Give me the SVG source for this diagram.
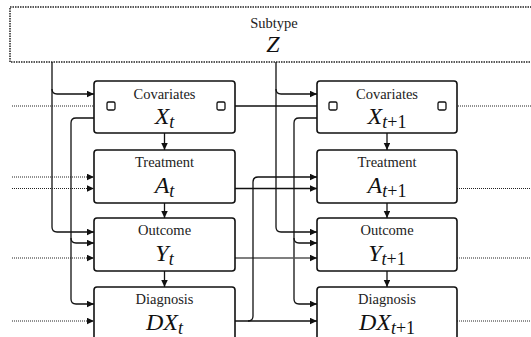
<svg xmlns="http://www.w3.org/2000/svg" width="531" height="337" viewBox="0 0 531 337">
  <style>
    .box { fill: #fff; stroke: #111; stroke-width: 1.6; }
    .port { fill: #fff; stroke: #111; stroke-width: 1.3; }
    .title { font-family: 'Liberation Serif', 'Times New Roman', serif; font-size: 14.5px; fill: #222; text-anchor: middle; }
    .math { font-family: 'Liberation Serif', 'Times New Roman', serif; font-style: italic; font-size: 24px; fill: #111; text-anchor: middle; }
    .sub { font-size: 18px; }
    .up { font-style: normal; }
    .wire { fill: none; stroke: #111; stroke-width: 1.3; }
    .grey { stroke: #555; }
    .dot { fill: none; stroke: #222; stroke-width: 1; stroke-dasharray: 1 1; }
    .arr { marker-end: url(#head); }
  </style>
  <defs>
    <marker id="head" markerUnits="userSpaceOnUse" markerWidth="8" markerHeight="8" refX="7" refY="3.25" orient="auto">
      <path d="M0,0 L7,3.25 L0,6.5 z" fill="#111"/>
    </marker>
  </defs>

  <rect x="0" y="0" width="531" height="337" fill="#fff"/>

  <!-- subtype -->
  <g id="subtype">
    <rect x="10" y="7" width="535" height="55" fill="#fff" stroke="#222" stroke-width="1.5" stroke-dasharray="1.5 1"/>
    <text class="title" x="274" y="28">Subtype</text>
    <text class="math" x="273" y="52" font-size="22">Z</text>
  </g>

  <!-- connectors -->
  <g id="connectors">
    <!-- from subtype -->
    <path class="wire arr" d="M52,62 V227 Q52,232 57,232 H94"/>
    <path class="wire arr" d="M52,89 Q52,94 57,94 H94"/>
    <path class="wire arr" d="M276,62 V227 Q276,232 281,232 H317"/>
    <path class="wire arr" d="M276,89 Q276,94 281,94 H317"/>

    <!-- covariates feeding outcome and diagnosis -->
    <path class="wire arr" d="M94,118 H76 Q71,118 71,123 V299 Q71,304 76,304 H94"/>
    <path class="wire arr" d="M71,238 Q71,243 76,243 H94"/>
    <path class="wire arr" d="M317,118 H299 Q294,118 294,123 V299 Q294,304 299,304 H317"/>
    <path class="wire arr" d="M294,238 Q294,243 299,243 H317"/>

    <!-- within-step arrows -->
    <path class="wire arr" d="M164.5,133 V150"/>
    <path class="wire arr" d="M164.5,203 V218"/>
    <path class="wire arr" d="M164.5,271 V287"/>
    <path class="wire arr" d="M387,133 V150"/>
    <path class="wire arr" d="M387,203 V218"/>
    <path class="wire arr" d="M387,271 V287"/>

    <!-- step t to step t+1 -->
    <path class="wire arr" d="M225,106 H329"/>
    <path class="wire arr" d="M235,188.5 H317"/>
    <path class="wire grey arr" d="M235,258 H317"/>
    <path class="wire arr" d="M235,321 H317"/>
    <path class="wire arr" d="M248,321 Q253,321 253,316 V182 Q253,177 258,177 H317"/>

    <!-- incoming dotted -->
    <path class="dot arr" d="M12,106 H107"/>
    <path class="dot arr" d="M12,177 H94"/>
    <path class="dot arr" d="M12,188.5 H94"/>
    <path class="dot arr" d="M12,258 H94"/>
    <path class="dot arr" d="M12,321 H94"/>

    <!-- outgoing dotted -->
    <path class="dot" d="M446,106 H531"/>
    <path class="dot" d="M457,188.5 H531"/>
    <path class="dot" d="M457,258 H531"/>
    <path class="dot" d="M457,321 H531"/>
  </g>

  <!-- step t -->
  <g id="covariates-t">
    <rect class="box" x="94" y="81" width="141" height="52" rx="3"/>
    <rect class="port" x="107" y="102" width="8" height="8" rx="1.5"/>
    <rect class="port" x="217" y="102" width="8" height="8" rx="1.5"/>
    <text class="title" x="164.5" y="99">Covariates</text>
    <text class="math" x="164.5" y="124">X<tspan class="sub" dy="4">t</tspan></text>
  </g>
  <g id="treatment-t">
    <rect class="box" x="94" y="150" width="141" height="53" rx="3"/>
    <text class="title" x="164.5" y="167">Treatment</text>
    <text class="math" x="164.5" y="193">A<tspan class="sub" dy="4">t</tspan></text>
  </g>
  <g id="outcome-t">
    <rect class="box" x="94" y="218" width="141" height="53" rx="3"/>
    <text class="title" x="164.5" y="235">Outcome</text>
    <text class="math" x="164.5" y="261">Y<tspan class="sub" dy="4">t</tspan></text>
  </g>
  <g id="diagnosis-t">
    <rect class="box" x="94" y="287" width="141" height="60" rx="3"/>
    <text class="title" x="164.5" y="304">Diagnosis</text>
    <text class="math" x="164.5" y="330">DX<tspan class="sub" dy="4">t</tspan></text>
  </g>

  <!-- step t+1 -->
  <g id="covariates-t1">
    <rect class="box" x="317" y="81" width="140" height="52" rx="3"/>
    <rect class="port" x="329" y="102" width="8" height="8" rx="1.5"/>
    <rect class="port" x="438" y="102" width="8" height="8" rx="1.5"/>
    <text class="title" x="387" y="99">Covariates</text>
    <text class="math" x="387" y="124">X<tspan class="sub" dy="4">t<tspan class="up">+1</tspan></tspan></text>
  </g>
  <g id="treatment-t1">
    <rect class="box" x="317" y="150" width="140" height="53" rx="3"/>
    <text class="title" x="387" y="167">Treatment</text>
    <text class="math" x="387" y="193">A<tspan class="sub" dy="4">t<tspan class="up">+1</tspan></tspan></text>
  </g>
  <g id="outcome-t1">
    <rect class="box" x="317" y="218" width="140" height="53" rx="3"/>
    <text class="title" x="387" y="235">Outcome</text>
    <text class="math" x="387" y="261">Y<tspan class="sub" dy="4">t<tspan class="up">+1</tspan></tspan></text>
  </g>
  <g id="diagnosis-t1">
    <rect class="box" x="317" y="287" width="140" height="60" rx="3"/>
    <text class="title" x="387" y="304">Diagnosis</text>
    <text class="math" x="387" y="330">DX<tspan class="sub" dy="4">t<tspan class="up">+1</tspan></tspan></text>
  </g>
</svg>
